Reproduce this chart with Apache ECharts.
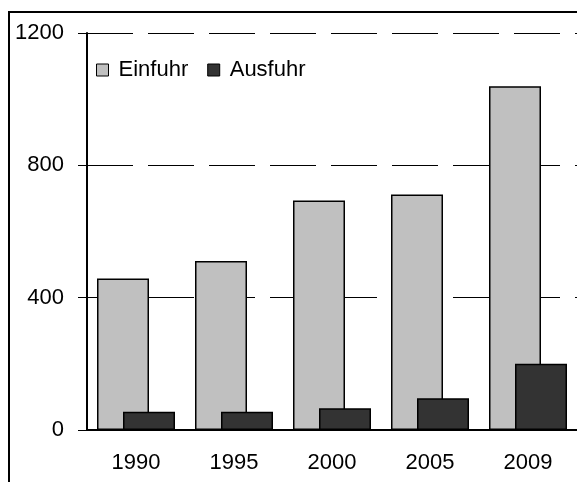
<!DOCTYPE html>
<html>
<head>
<meta charset="utf-8">
<script src="https://cdn.jsdelivr.net/npm/echarts@6/dist/echarts.min.js"></script>
<style>
  html, body { margin: 0; padding: 0; background: #fff; }
  #chart { width: 577px; height: 482px; }
</style>
</head>
<body>
<div id="chart"></div>
<script>
// data
var years = ['1990', '1995', '2000', '2005', '2009'];
var einfuhr = [458, 511, 694, 712, 1039];
var ausfuhr = [55, 55, 66, 96, 200];
var yTicks = [0, 400, 800, 1200];

var myChart = echarts.init(document.getElementById('chart'));
var font = '"Liberation Sans", Arial, sans-serif';

var option = {
  backgroundColor: '#fff',
  animation: false,
  textStyle: { fontFamily: font, color: '#000' },
  graphic: [{
    // outer frame, cut off at right and bottom
    type: 'rect',
    shape: { x: 9, y: 12, width: 700, height: 700 },
    style: { fill: 'none', stroke: '#000', lineWidth: 2 },
    silent: true
  }],
  legend: {
    left: 96,
    top: 59,
    icon: 'rect',
    itemWidth: 12,
    itemHeight: 12,
    itemGap: 19,
    padding: 0,
    itemStyle: { borderColor: '#000', borderWidth: 1 },
    textStyle: { fontFamily: font, fontSize: 22, color: '#000', padding: [0, 0, 0, 5] },
    data: ['Einfuhr', 'Ausfuhr']
  },
  grid: {
    left: 87,
    top: 33,
    width: 491,
    height: 397
  },
  xAxis: {
    type: 'category',
    data: years,
    axisLine: { lineStyle: { color: '#000', width: 2 } },
    axisTick: { show: false },
    axisLabel: { fontFamily: font, fontSize: 22, color: '#000', margin: 22 }
  },
  yAxis: {
    type: 'value',
    min: yTicks[0],
    max: yTicks[yTicks.length - 1],
    interval: 400,
    axisLine: { show: true, lineStyle: { color: '#000', width: 2 } },
    axisTick: { show: true, inside: false, length: 9, lineStyle: { color: '#000', width: 1 } },
    axisLabel: { fontFamily: font, fontSize: 22, color: '#000', margin: 23, formatter: function (v) { return String(v); } },
    splitLine: { show: true, lineStyle: { color: '#000', width: 1, type: [46, 15] } }
  },
  series: [{
    name: 'Einfuhr',
    type: 'bar',
    barWidth: 52,
    barGap: '-50%',
    itemStyle: { color: '#c0c0c0', borderColor: '#000', borderWidth: 1.5 },
    data: einfuhr
  }, {
    name: 'Ausfuhr',
    type: 'bar',
    barWidth: 52,
    barGap: '-50%',
    itemStyle: { color: '#333333', borderColor: '#000', borderWidth: 1.5 },
    data: ausfuhr
  }]
};
myChart.setOption(option);
</script>
</body>
</html>
